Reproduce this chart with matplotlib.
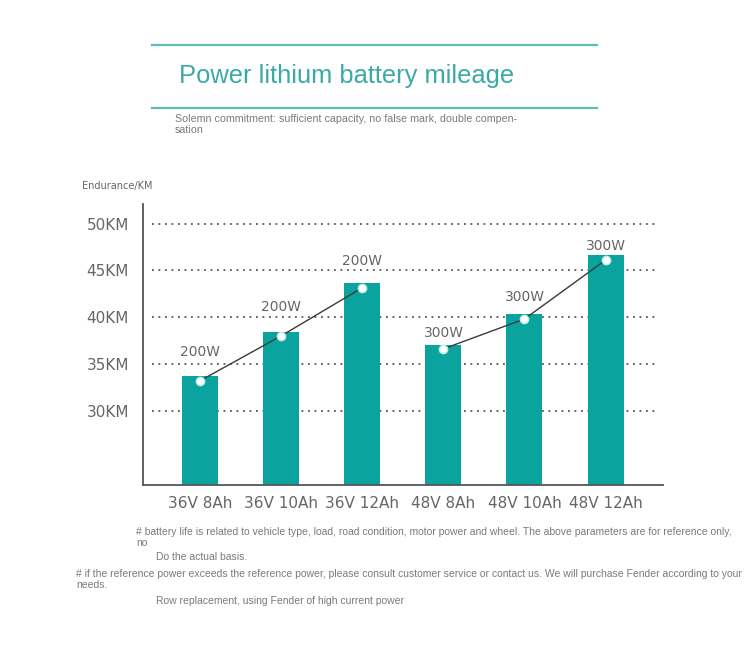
import matplotlib
matplotlib.use("Agg")
import matplotlib.pyplot as plt
from matplotlib.lines import Line2D
import numpy as np

# ---- data ----
categories = ["36V 8Ah", "36V 10Ah", "36V 12Ah", "48V 8Ah", "48V 10Ah", "48V 12Ah"]
endurance_km = [33.7, 38.45, 43.6, 37.05, 40.3, 46.6]
line_points_km = [33.2, 38.0, 43.15, 36.6, 39.8, 46.1]
power_labels = ["200W", "200W", "200W", "300W", "300W", "300W"]
line_groups = [[0, 1, 2], [3, 4, 5]]
ytick_values = [30, 35, 40, 45, 50]
ytick_labels = ["30KM", "35KM", "40KM", "45KM", "50KM"]

title = "Power lithium battery mileage"
subtitle = "Solemn commitment: sufficient capacity, no false mark, double compen-\nsation"
ylabel = "Endurance/KM"
notes = [
    "# battery life is related to vehicle type, load, road condition, motor power and wheel. The above parameters are for reference only,\nno",
    "Do the actual basis.",
    "# if the reference power exceeds the reference power, please consult customer service or contact us. We will purchase Fender according to your\nneeds.",
    "Row replacement, using Fender of high current power",
]

# ---- style ----
W, H = 750, 645
teal = "#0ba39e"
title_teal = "#3aaaa6"
rule_teal = "#5cbdb9"
grey = "#666666"
label_offsets_px = [24, 25, 22, 12, 17, 9]

fig = plt.figure(figsize=(W / 100, H / 100), dpi=100)
fig.patch.set_facecolor("white")

def fx(px):
    return px / W

def fy(py):
    return 1 - py / H

# header rules
for yy in (45, 108):
    fig.add_artist(Line2D([fx(152), fx(597)], [fy(yy), fy(yy)], color=rule_teal, lw=1.6))

fig.text(fx(179), fy(76), title, fontsize=18.4, color=title_teal,
         family=["Liberation Sans", "DejaVu Sans"], va="center", ha="left")
fig.text(fx(175), fy(114), subtitle, fontsize=7.7, color="#7a7a7a",
         family=["Liberation Sans", "DejaVu Sans"], va="top", ha="left", linespacing=1.12)
fig.text(fx(82), fy(186), ylabel, fontsize=7, color="#666666",
         family=["DejaVu Sans"], va="center", ha="left")

# ---- axes ----
ax = fig.add_axes([fx(143), fy(485.3), 520 / W, 281.3 / H])
x = np.arange(len(categories))
ax.set_xlim(-0.707, 5.709)
ax.set_ylim(22, 52.1)

for v in ytick_values:
    ax.axhline(v, xmin=0.017, xmax=0.991, color="#555555", lw=1.3,
               linestyle=(0, (1, 2.6)), zorder=1)

ax.bar(x, endurance_km, width=0.444, color=teal, zorder=2)

for grp in line_groups:
    gx = [x[i] for i in grp]
    gy = [line_points_km[i] for i in grp]
    ax.plot(gx, gy, color="#3a3a3a", lw=1.0, zorder=3)
    ax.plot(gx, gy, linestyle="none", marker="o", markersize=6,
            markerfacecolor="white", markeredgecolor="#bfeeee", markeredgewidth=1.0, zorder=4)

for i, lab in enumerate(power_labels):
    ax.annotate(lab, (x[i], endurance_km[i]), xytext=(0, label_offsets_px[i]),
                textcoords="offset pixels", ha="center", va="center",
                fontsize=10, color=grey, zorder=5)

ax.set_xticks(x)
ax.set_xticklabels(categories, fontsize=11, color=grey)
ax.set_yticks(ytick_values)
ax.set_yticklabels(ytick_labels, fontsize=11, color=grey)
ax.tick_params(axis="both", length=0)
ax.tick_params(axis="y", pad=10)
ax.tick_params(axis="x", pad=8)

for s in ("top", "right"):
    ax.spines[s].set_visible(False)
for s in ("left", "bottom"):
    ax.spines[s].set_color("#555555")
    ax.spines[s].set_linewidth(1.3)

# ---- footnotes ----
note_fam = ["Liberation Sans", "DejaVu Sans"]
nfs = 7.5
ncol = "#7a7a7a"
fig.text(fx(136), fy(527), notes[0], fontsize=nfs, color=ncol, family=note_fam,
         va="top", ha="left", linespacing=1.15)
fig.text(fx(156), fy(557), notes[1], fontsize=nfs, color=ncol, family=note_fam,
         va="center", ha="left")
fig.text(fx(76), fy(569), notes[2], fontsize=nfs, color=ncol, family=note_fam,
         va="top", ha="left", linespacing=1.15)
fig.text(fx(156), fy(600.5), notes[3], fontsize=nfs, color=ncol, family=note_fam,
         va="center", ha="left")

fig.savefig("out.png", dpi=100)
